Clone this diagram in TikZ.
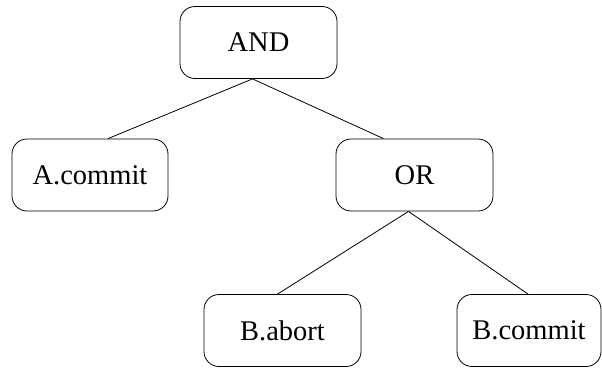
\documentclass[tikz,border=0pt]{standalone}
\usepackage{fontspec}
\setmainfont{Liberation Serif}
\usepackage{tikz}
\usetikzlibrary{calc}
\tikzset{
    gatebox/.style= {shape=rectangle,rounded corners=15pt,draw,line width=0.8pt,minimum height=72pt,inner sep=0,fill=white,font=\fontsize{28.5}{32}\selectfont}
}

\begin{document}
\begin{tikzpicture}[x=1pt,y=-1pt]
    \useasboundingbox (0,0) rectangle (602,367);
    \node[gatebox,minimum width=157pt]
        (gand) at (258.5,42.5) {AND};
    \node[gatebox,minimum width=156pt]
        (acommit) at (90,175) {A.commit};
    \node[gatebox,minimum width=157pt]
        (gor) at (414.5,175) {OR};
    \node[gatebox,minimum width=157pt]
        (babort) at (282.5,330.5) {B.abort};
    \node[gatebox,minimum width=144pt]
        (bcommit) at (529,330.5) {B.commit};

    \draw[line width=0.8pt] ($(gand.south)+(-6,0)$) -- ($(acommit.north)+(18,0)$);
    \draw[line width=0.8pt] ($(gand.south)+(-6,0)$) -- ($(gor.north)+(-31,0)$);
    \draw[line width=0.8pt] ($(gor.south)+(-6,0)$) -- ($(babort.north)+(-5,0)$);
    \draw[line width=0.8pt] ($(gor.south)+(-6,0)$) -- ($(bcommit.north)+(-1,0)$);
\end{tikzpicture}
\end{document}
